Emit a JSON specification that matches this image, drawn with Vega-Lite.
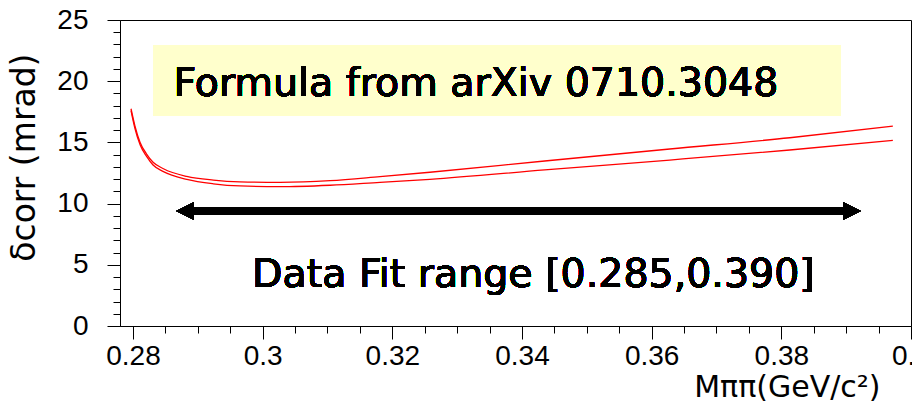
{
  "$schema": "https://vega.github.io/schema/vega-lite/v6.json",
  "width": 791,
  "height": 306,
  "autosize": "none",
  "padding": {"left": 120, "top": 20, "right": 1, "bottom": 75},
  "background": "white",
  "config": {
    "view": {"stroke": "black", "strokeWidth": 1},
    "axis": {"grid": false, "domainColor": "black", "tickColor": "black", "labelColor": "black", "titleColor": "black", "labelOverlap": false, "tickCount": 100}
  },
  "data": {
    "values": [
      {"curve": "upper", "m": 0.2797, "dcorr": 17.75},
      {"curve": "upper", "m": 0.2803, "dcorr": 16.35},
      {"curve": "upper", "m": 0.2811, "dcorr": 15.0},
      {"curve": "upper", "m": 0.2821, "dcorr": 14.05},
      {"curve": "upper", "m": 0.2831, "dcorr": 13.38},
      {"curve": "upper", "m": 0.2847, "dcorr": 12.85},
      {"curve": "upper", "m": 0.2883, "dcorr": 12.22},
      {"curve": "upper", "m": 0.2924, "dcorr": 11.92},
      {"curve": "upper", "m": 0.2965, "dcorr": 11.78},
      {"curve": "upper", "m": 0.3027, "dcorr": 11.74},
      {"curve": "upper", "m": 0.3104, "dcorr": 11.87},
      {"curve": "upper", "m": 0.3181, "dcorr": 12.2},
      {"curve": "upper", "m": 0.3258, "dcorr": 12.56},
      {"curve": "upper", "m": 0.3435, "dcorr": 13.48},
      {"curve": "upper", "m": 0.3628, "dcorr": 14.46},
      {"curve": "upper", "m": 0.3813, "dcorr": 15.38},
      {"curve": "upper", "m": 0.3972, "dcorr": 16.33},
      {"curve": "lower", "m": 0.2797, "dcorr": 17.6},
      {"curve": "lower", "m": 0.2803, "dcorr": 16.15},
      {"curve": "lower", "m": 0.2811, "dcorr": 14.8},
      {"curve": "lower", "m": 0.2821, "dcorr": 13.85},
      {"curve": "lower", "m": 0.2831, "dcorr": 13.15},
      {"curve": "lower", "m": 0.2847, "dcorr": 12.61},
      {"curve": "lower", "m": 0.2883, "dcorr": 11.98},
      {"curve": "lower", "m": 0.2924, "dcorr": 11.62},
      {"curve": "lower", "m": 0.2965, "dcorr": 11.44},
      {"curve": "lower", "m": 0.3027, "dcorr": 11.38},
      {"curve": "lower", "m": 0.3104, "dcorr": 11.5},
      {"curve": "lower", "m": 0.3181, "dcorr": 11.74},
      {"curve": "lower", "m": 0.3258, "dcorr": 11.98},
      {"curve": "lower", "m": 0.3435, "dcorr": 12.75},
      {"curve": "lower", "m": 0.3628, "dcorr": 13.56},
      {"curve": "lower", "m": 0.3813, "dcorr": 14.38},
      {"curve": "lower", "m": 0.3972, "dcorr": 15.17}
    ]
  },
  "layer": [
    {
      "mark": {"type": "line", "color": "#ff0000", "strokeWidth": 1.3, "interpolate": "monotone", "clip": true},
      "encoding": {
        "x": {
          "field": "m", "type": "quantitative",
          "scale": {"domain": [0.278, 0.4], "nice": false, "zero": false},
          "axis": {
            "values": [0.28, 0.285, 0.29, 0.295, 0.3, 0.305, 0.31, 0.315, 0.32, 0.325, 0.33, 0.335, 0.34, 0.345, 0.35, 0.355, 0.36, 0.365, 0.37, 0.375, 0.38, 0.385, 0.39, 0.395, 0.4],
            "tickCount": 100,
            "labelExpr": "abs(datum.value * 50 - round(datum.value * 50)) < 1e-6 ? format(datum.value, '~g') : ''",
            "labelFontSize": {"condition": {"test": "abs(datum.value * 50 - round(datum.value * 50)) < 1e-6", "value": 28}, "value": 0},
            "tickSize": {"condition": {"test": "abs(datum.value * 50 - round(datum.value * 50)) < 1e-6", "value": 13}, "value": 7},
            "labelFont": "Liberation Sans", "labelPadding": 3,
            "labelFlush": false, "labelOverlap": false,
            "title": "Mππ(GeV/c²)",
            "titleFont": "DejaVu Sans", "titleFontSize": 30, "titleFontWeight": "normal",
            "titleAnchor": "end", "titleAlign": "right", "titleBaseline": "alphabetic",
            "titleX": 760, "titleY": 70
          }
        },
        "y": {
          "field": "dcorr", "type": "quantitative",
          "scale": {"domain": [0, 25], "nice": false},
          "axis": {
            "values": [0, 1, 2, 3, 4, 5, 6, 7, 8, 9, 10, 11, 12, 13, 14, 15, 16, 17, 18, 19, 20, 21, 22, 23, 24, 25],
            "tickCount": 100,
            "labelExpr": "datum.value % 5 === 0 ? format(datum.value, 'd') : ''",
            "labelFontSize": {"condition": {"test": "datum.value % 5 === 0", "value": 28}, "value": 0},
            "tickSize": {"condition": {"test": "datum.value % 5 === 0", "value": 13}, "value": 7},
            "labelFont": "Liberation Sans", "labelPadding": 19,
            "labelFlush": false, "labelOverlap": false,
            "title": "δcorr (mrad)",
            "titleFont": "DejaVu Sans", "titleFontSize": 33, "titleFontWeight": "normal",
            "titleAnchor": "end", "titleAngle": -90, "titleAlign": "right", "titleBaseline": "middle",
            "titleX": -96, "titleY": 33
          }
        },
        "detail": {"field": "curve"}
      }
    },
    {
      "mark": {"type": "rect", "color": "#ffffcc"},
      "encoding": {
        "x": {"datum": 0.2831}, "x2": {"datum": 0.3892},
        "y": {"datum": 22.96}, "y2": {"datum": 17.16}
      }
    },
    {
      "mark": {"type": "text", "text": "Formula from arXiv 0710.3048", "font": "DejaVu Sans", "fontSize": 39.5, "align": "center", "baseline": "alphabetic", "color": "black"},
      "encoding": {"x": {"datum": 0.3329}, "y": {"datum": 18.79}}
    },
    {
      "mark": {"type": "rule", "color": "black", "strokeWidth": 6.5},
      "encoding": {"x": {"datum": 0.28803}, "x2": {"datum": 0.3909}, "y": {"datum": 9.4}}
    },
    {
      "mark": {"type": "point", "shape": "M-1,0L1,-1L1,1Z", "size": 289, "filled": true, "color": "black", "opacity": 1},
      "encoding": {"x": {"datum": 0.28803}, "y": {"datum": 9.4}}
    },
    {
      "mark": {"type": "point", "shape": "M1,0L-1,-1L-1,1Z", "size": 289, "filled": true, "color": "black", "opacity": 1},
      "encoding": {"x": {"datum": 0.3909}, "y": {"datum": 9.4}}
    },
    {
      "mark": {"type": "text", "text": "Data Fit range [0.285,0.390]", "font": "DejaVu Sans", "fontSize": 39.5, "align": "center", "baseline": "alphabetic", "color": "black"},
      "encoding": {"x": {"datum": 0.34176}, "y": {"datum": 3.19}}
    }
  ]
}
